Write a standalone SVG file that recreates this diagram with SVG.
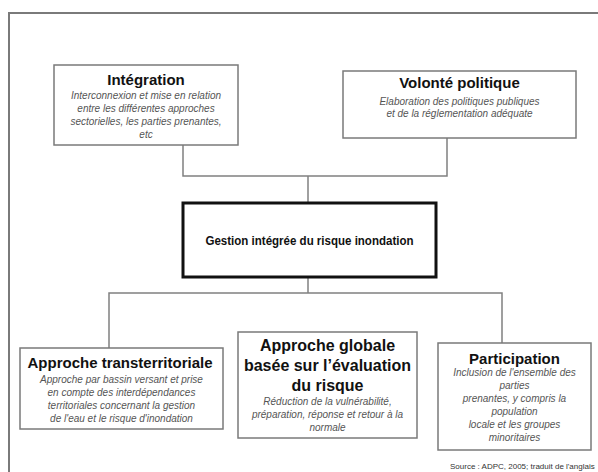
<svg xmlns="http://www.w3.org/2000/svg" width="598" height="472" viewBox="0 0 598 472">
<style>
.box{fill:#fff;stroke:#7a7a7a;stroke-width:1.5}
.main{fill:#fff;stroke:#111;stroke-width:3}
.con{fill:none;stroke:#808080;stroke-width:1.5}
.t{font-family:"Liberation Sans",Arial,sans-serif;font-weight:bold;font-size:15px;fill:#111;text-anchor:middle}
.s{font-family:"Liberation Sans",Arial,sans-serif;font-style:italic;font-size:10px;fill:#555;text-anchor:middle}
.c{font-family:"Liberation Sans",Arial,sans-serif;font-weight:bold;font-size:12.5px;fill:#111;text-anchor:middle}
.src{font-family:"Liberation Sans",Arial,sans-serif;font-size:8px;fill:#333}
</style>
<rect x="0" y="0" width="598" height="472" fill="#fff"/>
<rect x="9" y="13" width="600" height="470" fill="none" stroke="#7a7a7a" stroke-width="2"/>
<g id="connectors">
<polyline class="con" points="183,145 183,176 447,176 447,138"/>
<line class="con" x1="308" y1="176" x2="308" y2="203"/>
<line class="con" x1="308" y1="277" x2="308" y2="293"/>
<polyline class="con" points="109,348 109,293 502,293 502,343"/>
</g>
<g id="integration">
<rect class="box" x="54" y="65" width="184" height="80"/>
<text class="t" x="146" y="85">Intégration</text>
<text class="s" x="146" y="99">Interconnexion et mise en relation</text>
<text class="s" x="146" y="112">entre les différentes approches</text>
<text class="s" x="146" y="125">sectorielles, les parties prenantes,</text>
<text class="s" x="146" y="138">etc</text>
</g>
<g id="volonte">
<rect class="box" x="343" y="71" width="233" height="67"/>
<text class="t" x="459.5" y="88">Volonté politique</text>
<text class="s" x="459.5" y="105">Elaboration des politiques publiques</text>
<text class="s" x="459.5" y="117">et de la réglementation adéquate</text>
</g>
<g id="gestion">
<rect class="main" x="183" y="203" width="253" height="74"/>
<text class="c" x="309.5" y="245" textLength="208" lengthAdjust="spacingAndGlyphs">Gestion intégrée du risque inondation</text>
</g>
<g id="transterritoriale">
<rect class="box" x="20" y="348" width="203" height="81"/>
<text class="t" x="120" y="368">Approche transterritoriale</text>
<text class="s" x="121.5" y="383">Approche par bassin versant et prise</text>
<text class="s" x="121.5" y="396">en compte des interdépendances</text>
<text class="s" x="121.5" y="409">territoriales concernant la gestion</text>
<text class="s" x="121.5" y="422">de l'eau et le risque d'inondation</text>
</g>
<g id="globale">
<rect class="box" x="238" y="332" width="179" height="106"/>
<text class="t" x="327.5" y="351" style="font-size:16px">Approche globale</text>
<text class="t" x="327.5" y="371" style="font-size:16px">basée sur l’évaluation</text>
<text class="t" x="327.5" y="391" style="font-size:16px">du risque</text>
<text class="s" x="327.5" y="405">Réduction de la vulnérabilité,</text>
<text class="s" x="327.5" y="418">préparation, réponse et retour à la</text>
<text class="s" x="327.5" y="431">normale</text>
</g>
<g id="participation">
<rect class="box" x="438" y="343" width="153" height="107"/>
<text class="t" x="514.5" y="364">Participation</text>
<text class="s" x="514.5" y="376">Inclusion de l'ensemble des</text>
<text class="s" x="514.5" y="389">parties</text>
<text class="s" x="514.5" y="402">prenantes, y compris la</text>
<text class="s" x="514.5" y="415">population</text>
<text class="s" x="514.5" y="428">locale et les groupes</text>
<text class="s" x="514.5" y="441">minoritaires</text>
</g>
<text class="src" x="450" y="469">Source : ADPC, 2005; traduit de l'anglais</text>
</svg>
